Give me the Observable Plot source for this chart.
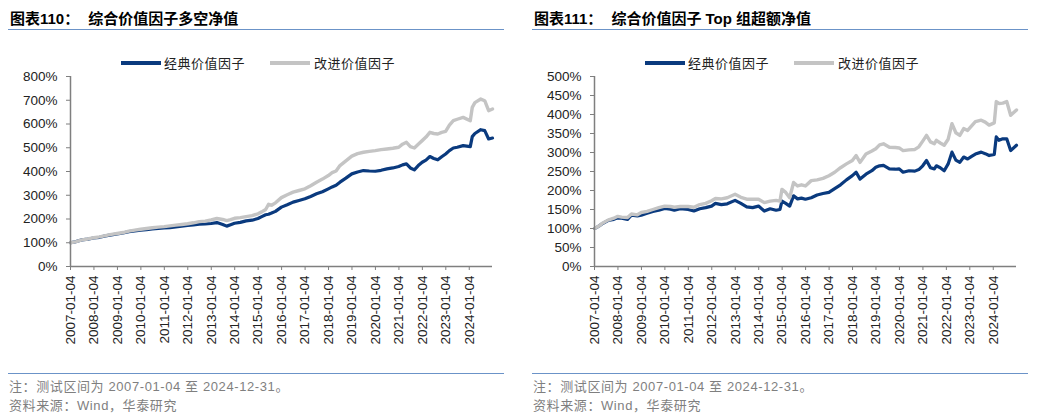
<!DOCTYPE html>
<html><head><meta charset="utf-8">
<script src="https://cdn.jsdelivr.net/npm/d3@7"></script>
<script src="https://cdn.jsdelivr.net/npm/@observablehq/plot@0.6"></script>
<style>
html,body{margin:0;padding:0;background:#fff;}
body{width:1040px;height:419px;overflow:hidden;position:relative;font-family:"Liberation Sans","Noto Sans CJK SC",sans-serif;}
.panel{position:absolute;top:0;width:516px;height:419px;}
.title{position:absolute;left:10px;top:11px;font-size:15px;line-height:15px;font-weight:bold;color:#000;white-space:nowrap;}
.gap{display:inline-block;width:9px;}
.rule{position:absolute;left:8px;width:496px;height:0;border-top:1.3px solid #6b93c8;}
.sw{position:absolute;height:3.5px;width:40px;top:61px;}
.lt{position:absolute;top:55px;font-size:13px;line-height:15px;color:#222;white-space:nowrap;font-family:"Noto Sans CJK SC",sans-serif;letter-spacing:0.5px;}
.chart{position:absolute;left:0;top:66px;}
.note{position:absolute;left:9px;font-size:13px;line-height:15px;color:#7f7f7f;white-space:nowrap;letter-spacing:0.6px;}
</style></head>
<body>
<div class="panel" id="p1" style="left:0">
  <div class="title">图表110：<span class="gap"></span>综合价值因子多空净值</div>
  <div class="rule" style="top:29px"></div>
  <div class="sw" style="left:121px;background:#0a3a7e"></div><div class="lt" style="left:164px">经典价值因子</div>
  <div class="sw" style="left:270px;background:#c4c4c4"></div><div class="lt" style="left:314px">改进价值因子</div>
  <div class="chart" id="c1"></div>
  <div class="rule" style="top:373px"></div>
  <div class="note" style="top:379px">注：测试区间为 2007-01-04 至 2024-12-31。</div>
  <div class="note" style="top:398px">资料来源：Wind，华泰研究</div>
</div>
<div class="panel" id="p2" style="left:524px">
  <div class="title">图表111：<span class="gap"></span>综合价值因子 Top 组超额净值</div>
  <div class="rule" style="top:29px"></div>
  <div class="sw" style="left:121px;background:#0a3a7e"></div><div class="lt" style="left:164px">经典价值因子</div>
  <div class="sw" style="left:270px;background:#c4c4c4"></div><div class="lt" style="left:314px">改进价值因子</div>
  <div class="chart" id="c2"></div>
  <div class="rule" style="top:373px"></div>
  <div class="note" style="top:379px">注：测试区间为 2007-01-04 至 2024-12-31。</div>
  <div class="note" style="top:398px">资料来源：Wind，华泰研究</div>
</div>
<script>
const seriesNames = ["经典价值因子", "改进价值因子"];
const tickLabels = ["2007-01-04","2008-01-04","2009-01-04","2010-01-04","2011-01-04","2012-01-04","2013-01-04","2014-01-04","2015-01-04","2016-01-04","2017-01-04","2018-01-04","2019-01-04","2020-01-04","2021-01-04","2022-01-04","2023-01-04","2024-01-04"];
const dateRange = ["2007-01-04", "2024-12-31"];

// Chart 110: long-short net value
const lsDates = ["2007-01-04","2007-04-01","2007-07-01","2007-10-01","2008-01-01","2008-04-01","2008-07-01","2008-10-01","2009-01-01","2009-04-01","2009-07-01","2009-10-01","2010-01-01","2010-04-01","2010-07-01","2010-10-01","2011-01-01","2011-04-01","2011-07-01","2011-10-01","2012-01-01","2012-04-01","2012-07-01","2012-10-01","2013-01-01","2013-04-01","2013-07-01","2013-09-01","2013-11-01","2014-01-01","2014-04-01","2014-07-01","2014-10-01","2015-01-01","2015-03-01","2015-05-01","2015-06-15","2015-08-01","2015-10-01","2016-01-01","2016-04-01","2016-07-01","2016-10-01","2017-01-01","2017-04-01","2017-07-01","2017-10-01","2018-01-01","2018-03-01","2018-05-01","2018-07-01","2018-10-01","2019-01-01","2019-04-01","2019-07-01","2019-10-01","2020-01-01","2020-04-01","2020-07-01","2020-10-01","2021-01-01","2021-03-01","2021-05-01","2021-07-01","2021-09-01","2021-11-01","2022-01-01","2022-03-01","2022-05-01","2022-07-01","2022-09-01","2022-11-01","2023-01-01","2023-03-01","2023-05-01","2023-07-01","2023-10-01","2024-01-20","2024-02-20","2024-04-01","2024-07-01","2024-09-01","2024-11-01","2024-12-31"];
const lsClassic = [1.00,1.05,1.12,1.15,1.20,1.23,1.29,1.33,1.37,1.41,1.47,1.50,1.53,1.55,1.58,1.60,1.62,1.64,1.67,1.70,1.73,1.75,1.78,1.79,1.81,1.85,1.77,1.70,1.76,1.82,1.86,1.92,1.95,2.02,2.10,2.18,2.20,2.25,2.32,2.50,2.60,2.71,2.78,2.85,2.95,3.06,3.15,3.27,3.35,3.42,3.55,3.72,3.90,3.98,4.04,4.02,4.01,4.05,4.11,4.15,4.21,4.28,4.32,4.15,4.07,4.25,4.39,4.48,4.63,4.55,4.49,4.62,4.74,4.88,4.99,5.02,5.09,5.05,5.47,5.60,5.76,5.72,5.37,5.41];
const lsImproved = [1.00,1.05,1.12,1.16,1.21,1.25,1.30,1.35,1.39,1.43,1.49,1.53,1.57,1.60,1.63,1.66,1.68,1.71,1.74,1.77,1.80,1.84,1.89,1.91,1.96,2.02,1.98,1.93,1.97,2.03,2.06,2.10,2.14,2.22,2.30,2.40,2.62,2.58,2.68,2.90,3.02,3.13,3.20,3.27,3.40,3.55,3.68,3.83,3.95,4.02,4.25,4.45,4.65,4.75,4.81,4.85,4.88,4.92,4.95,4.98,5.02,5.15,5.23,5.05,4.99,5.15,5.30,5.45,5.65,5.60,5.58,5.65,5.69,5.95,6.14,6.20,6.28,6.14,6.70,6.90,7.05,6.98,6.56,6.63];

// Chart 111: Top group excess net value
const topDates = ["2007-01-04","2007-03-01","2007-05-01","2007-08-01","2007-11-01","2008-01-01","2008-03-01","2008-06-01","2008-08-01","2008-11-01","2009-01-01","2009-04-01","2009-07-01","2009-10-01","2010-01-01","2010-04-01","2010-06-01","2010-09-01","2011-01-01","2011-04-01","2011-07-01","2011-10-01","2012-01-01","2012-03-01","2012-06-01","2012-09-01","2013-01-01","2013-04-01","2013-07-01","2013-10-01","2014-01-01","2014-04-01","2014-07-01","2014-10-01","2014-12-01","2015-01-01","2015-03-01","2015-05-01","2015-07-01","2015-09-01","2015-11-01","2016-01-01","2016-04-01","2016-07-01","2016-10-01","2017-01-01","2017-04-01","2017-07-01","2017-10-01","2018-01-01","2018-03-01","2018-05-01","2018-08-01","2018-11-01","2019-01-01","2019-03-01","2019-05-01","2019-08-01","2019-11-01","2020-01-01","2020-03-01","2020-06-01","2020-09-01","2020-11-01","2021-01-01","2021-03-01","2021-05-01","2021-07-01","2021-08-01","2021-10-01","2021-12-01","2022-02-01","2022-04-01","2022-06-01","2022-08-01","2022-10-01","2022-12-01","2023-02-01","2023-04-01","2023-07-01","2023-09-01","2023-11-01","2024-01-20","2024-02-20","2024-04-01","2024-06-01","2024-08-01","2024-10-01","2024-12-31"];
const topClassic = [1.00,1.05,1.12,1.21,1.24,1.28,1.27,1.24,1.35,1.33,1.35,1.40,1.45,1.48,1.53,1.51,1.48,1.52,1.50,1.46,1.52,1.55,1.59,1.66,1.63,1.65,1.74,1.66,1.57,1.55,1.59,1.46,1.52,1.48,1.50,1.72,1.66,1.59,1.86,1.78,1.80,1.77,1.81,1.88,1.92,1.95,2.05,2.15,2.28,2.39,2.48,2.30,2.43,2.52,2.61,2.65,2.66,2.57,2.56,2.57,2.48,2.52,2.51,2.55,2.65,2.79,2.60,2.57,2.65,2.60,2.52,2.70,3.01,2.80,2.74,2.88,2.83,2.90,2.96,3.01,2.97,2.92,2.95,3.41,3.32,3.36,3.36,3.05,3.19];
const topImproved = [1.00,1.05,1.13,1.22,1.27,1.32,1.30,1.29,1.38,1.36,1.42,1.45,1.50,1.55,1.59,1.58,1.56,1.58,1.58,1.56,1.63,1.66,1.73,1.79,1.78,1.81,1.90,1.82,1.77,1.77,1.77,1.68,1.72,1.74,1.72,2.03,1.95,1.81,2.21,2.12,2.15,2.12,2.26,2.28,2.32,2.39,2.48,2.60,2.70,2.79,2.92,2.74,2.96,3.04,3.10,3.20,3.23,3.14,3.13,3.12,3.05,3.07,3.08,3.15,3.30,3.45,3.28,3.23,3.32,3.25,3.19,3.35,3.76,3.52,3.45,3.63,3.58,3.70,3.81,3.85,3.80,3.72,3.78,4.34,4.29,4.30,4.34,3.98,4.12];

const blue = "#0a3a7e", gray = "#c4c4c4", axisColor = "#7f7f7f";
const parse = d3.utcParse("%Y-%m-%d");

function makeChart(dates, classic, improved, yMax, yStep) {
  const rowsC = dates.map((d, i) => ({date: parse(d), value: classic[i], series: seriesNames[0]}));
  const rowsI = dates.map((d, i) => ({date: parse(d), value: improved[i], series: seriesNames[1]}));
  const domainX = dateRange.map(parse);
  return Plot.plot({
    width: 516, height: 284,
    marginLeft: 70, marginRight: 24, marginTop: 10, marginBottom: 84,
    style: {fontFamily: '"Liberation Sans", Arial, sans-serif', fontSize: "13.5px", color: "#222", background: "transparent", overflow: "visible"},
    x: {type: "utc", domain: domainX},
    y: {domain: [0, yMax]},
    marks: [
      Plot.line(rowsC, {x: "date", y: "value", stroke: blue, strokeWidth: 3.2, strokeLinejoin: "round"}),
      Plot.line(rowsI, {x: "date", y: "value", stroke: gray, strokeWidth: 3.4, strokeLinejoin: "round"}),
      Plot.ruleY([0], {stroke: axisColor, strokeWidth: 1.5}),
      Plot.ruleX([domainX[0]], {stroke: axisColor, strokeWidth: 1.5}),
      Plot.axisY({ticks: d3.range(0, yMax + 1e-9, yStep), tickFormat: d => Math.round(d * 100) + "%", tickSize: 4, tickPadding: 9, stroke: axisColor, label: null, fill: "#222"}),
      Plot.axisX({ticks: tickLabels.map(parse), tickFormat: d3.utcFormat("%Y-%m-%d"), tickRotate: -90, tickSize: 4, tickPadding: 5, stroke: axisColor, label: null, fill: "#222"})
    ]
  });
}

document.getElementById("c1").append(makeChart(lsDates, lsClassic, lsImproved, 8, 1));
document.getElementById("c2").append(makeChart(topDates, topClassic, topImproved, 5, 0.5));
</script>
</body></html>
